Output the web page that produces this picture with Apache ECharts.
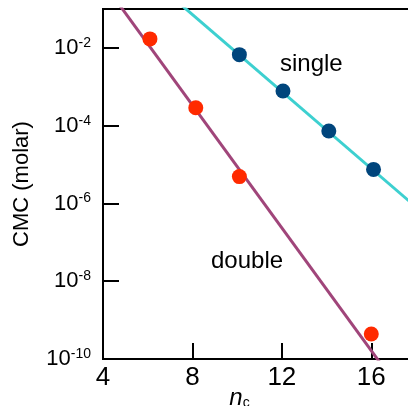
<!DOCTYPE html>
<html>
<head>
<meta charset="utf-8">
<script src="https://cdn.jsdelivr.net/npm/echarts@6/dist/echarts.min.js"></script>
<style>
  html, body { margin: 0; padding: 0; background: #fff; }
  #chart { width: 408px; height: 406px; }
</style>
</head>
<body>
<div id="chart"></div>
<script>
// measured points (n_c, CMC in molar)
const doubleN = [6.1, 8.15, 10.1, 16.0];
const doubleCMC = [1.7e-2, 2.9e-4, 4.9e-6, 4.4e-10];
const singleN = [10.1, 12.05, 14.1, 16.1];
const singleCMC = [6.7e-3, 7.8e-4, 7.3e-5, 7.5e-6];

// fitted lines, two end points each
const doubleFitN = [4.5, 16.5];
const doubleFitCMC = [1.95e-1, 6.6e-11];
const singleFitN = [7.5, 18];
const singleFitCMC = [1.27e-1, 8.1e-7];

const xTicks = [4, 8, 12, 16];
const yTicks = [1e-10, 1e-8, 1e-6, 1e-4, 1e-2];

const zip = (xs, ys) => xs.map((x, i) => [x, ys[i]]);
const font = '"Liberation Sans", Arial, Helvetica, sans-serif';

const chart = echarts.init(document.getElementById('chart'));

const option = {
  animation: false,
  grid: {
    left: 103,
    right: -8,
    top: 9,
    bottom: 47,
    outerBoundsMode: 'none',
    containLabel: false,
    show: true,
    borderColor: '#000',
    borderWidth: 2
  },
  xAxis: {
    type: 'value',
    min: 4,
    max: 18,
    interval: 4,
    name: '{n|n}{c|c}',
    nameLocation: 'middle',
    nameGap: 27,
    nameMoveOverlap: false,
    nameTextStyle: {
      padding: [0, 40, 0, 0],
      rich: {
        n: { fontFamily: font, fontSize: 24, fontStyle: 'italic', color: '#000' },
        c: { fontFamily: font, fontSize: 14, color: '#000', verticalAlign: 'bottom', padding: [10, 0, 0, 0] }
      }
    },
    axisLine: { lineStyle: { color: '#000', width: 2 } },
    axisTick: { inside: true, length: 16, customValues: xTicks, lineStyle: { color: '#000', width: 2 } },
    axisLabel: {
      customValues: xTicks,
      margin: 6,
      fontFamily: font,
      fontSize: 26,
      color: '#000'
    },
    splitLine: { show: false }
  },
  yAxis: {
    type: 'log',
    logBase: 10,
    min: 1e-10,
    max: 1e-1,
    name: 'CMC (molar)',
    nameLocation: 'middle',
    nameGap: 70,
    nameMoveOverlap: false,
    nameTextStyle: { fontFamily: font, fontSize: 22, color: '#000' },
    axisLine: { lineStyle: { color: '#000', width: 2 } },
    axisTick: { inside: true, length: 16, customValues: yTicks, lineStyle: { color: '#000', width: 2 } },
    axisLabel: {
      customValues: yTicks,
      margin: 12,
      color: '#000',
      formatter: v => '{b|10}{e|' + Math.round(Math.log10(v)) + '}',
      rich: {
        b: { fontFamily: font, fontSize: 22, color: '#000', lineHeight: 24 },
        e: { fontFamily: font, fontSize: 14, color: '#000', verticalAlign: 'top', lineHeight: 14 }
      }
    },
    splitLine: { show: false }
  },
  graphic: [
    {
      type: 'text', left: 280, top: 52,
      style: { text: 'single', font: '24px ' + font, fill: '#000' }
    },
    {
      type: 'text', left: 211, top: 249,
      style: { text: 'double', font: '24px ' + font, fill: '#000' }
    }
  ],
  series: [
    {
      type: 'line',
      data: zip(doubleFitN, doubleFitCMC),
      showSymbol: false,
      clip: true,
      lineStyle: { color: '#a0457a', width: 3 },
      z: 2
    },
    {
      type: 'line',
      data: zip(singleFitN, singleFitCMC),
      showSymbol: false,
      clip: true,
      lineStyle: { color: '#3dd0d0', width: 3 },
      z: 2
    },
    {
      type: 'scatter',
      data: zip(doubleN, doubleCMC),
      symbolSize: 15,
      itemStyle: { color: '#ff2a00', opacity: 1 },
      z: 3
    },
    {
      type: 'scatter',
      data: zip(singleN, singleCMC),
      symbolSize: 15,
      itemStyle: { color: '#00457c', opacity: 1 },
      z: 3
    }
  ]
};

chart.setOption(option);
</script>
</body>
</html>
